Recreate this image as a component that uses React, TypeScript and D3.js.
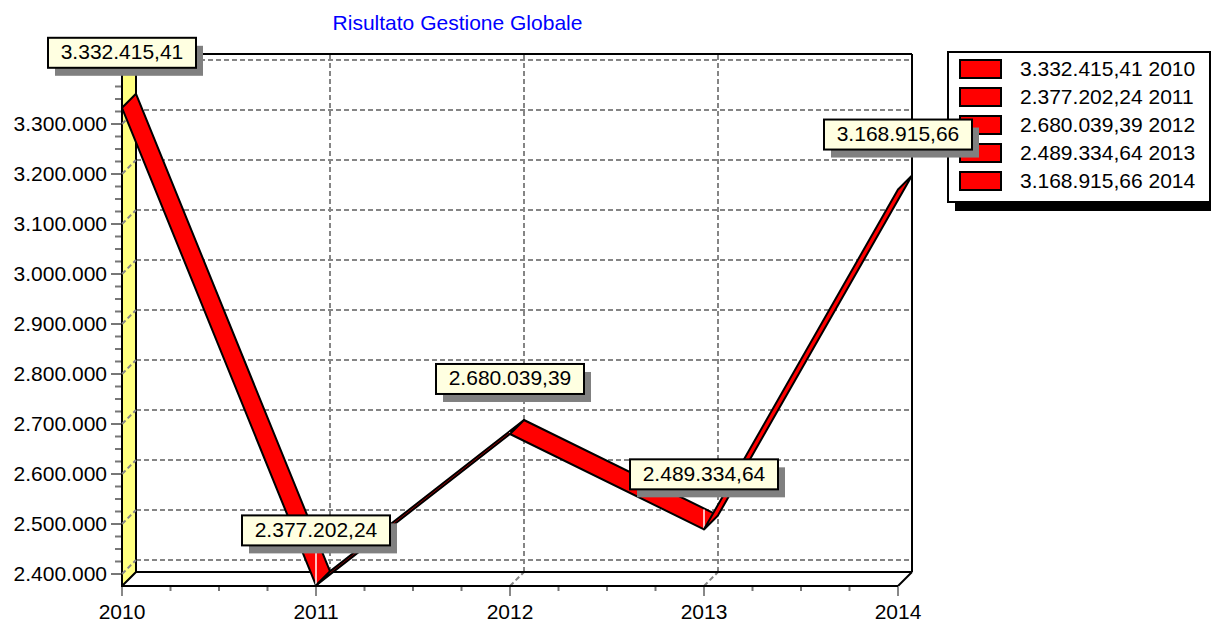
import React from 'react';
import * as d3 from 'd3';

const years = ['2010', '2011', '2012', '2013', '2014'];
const values = [3332415.41, 2377202.24, 2680039.39, 2489334.64, 3168915.66];
const yLabelTicks = [2400000, 2500000, 2600000, 2700000, 2800000, 2900000, 3000000, 3100000, 3200000, 3300000];
const yGridTicks = [2400000, 2500000, 2600000, 2700000, 2800000, 2900000, 3000000, 3100000, 3200000, 3300000, 3400000];
const yMinorStep = 25000;
const yAxisMin = 2376000;
const yAxisMax = 3412000;
const title = 'Risultato Gestione Globale';

const W = 1211;
const H = 624;
const DX = 14;
const DY = -14;
const FONT = '"Liberation Sans", Arial, sans-serif';
const GRID = '#858585';

const itLocale = d3.formatLocale({ decimal: ',', thousands: '.', grouping: [3], currency: ['€', ''] });
const fmtVal = itLocale.format(',.2f');
const fmtTick = itLocale.format(',.0f');

export default function App() {
  const x = d3.scalePoint<string>().domain(years).range([122, 898]);
  const y = d3.scaleLinear().domain([yAxisMin, yAxisMax]).range([586, 68]);

  const x0 = x(years[0])!;
  const xN = x(years[years.length - 1])!;
  const yBot = y(yAxisMin);
  const yTop = y(yAxisMax);

  const pts = years.map((yr, i) => ({ x: x(yr)!, y: y(values[i]), v: values[i], yr }));

  const minorTicks = d3.range(yAxisMin + (yMinorStep - (yAxisMin % yMinorStep)), yAxisMax, yMinorStep);
  const xStep = x.step();
  const xMinor: number[] = [];
  for (let i = 0; i < years.length - 1; i++) {
    for (let k = 1; k < 4; k++) xMinor.push(x(years[i])! + (xStep * k) / 4);
  }

  const segs = pts.slice(0, -1).map((p, i) => {
    const q = pts[i + 1];
    return [
      [p.x, p.y],
      [q.x, q.y],
      [q.x + DX, q.y + DY],
      [p.x + DX, p.y + DY],
    ];
  });

  const whiteLines = pts.slice(1, -1).map((p, j) => {
    const prev = pts[j];
    const t = (p.x - prev.x - DX) / (p.x - prev.x);
    const yb = prev.y + DY + t * (p.y - prev.y);
    return { x: p.x, y1: p.y, y2: yb };
  });

  const line = d3.line();

  return (
    <svg width={W} height={H} style={{ position: 'absolute', left: 0, top: 0, background: '#fff' }} fontFamily={FONT}>
      {/* title */}
      <text x={457.5} y={30} textAnchor="middle" fontSize={21} fill="#0000ff">{title}</text>

      {/* back wall gridlines */}
      {yGridTicks.map((t) => (
        <g key={'g' + t}>
          <line x1={x0 + DX} x2={xN + DX} y1={y(t) + DY} y2={y(t) + DY} stroke={GRID} strokeWidth={2} strokeDasharray="5,3" />
        </g>
      ))}
      {years.slice(1, -1).map((yr) => (
        <g key={'v' + yr}>
          <line x1={x(yr)! + DX} x2={x(yr)! + DX} y1={yBot + DY} y2={yTop + DY} stroke={GRID} strokeWidth={2} strokeDasharray="5,3" />
          <line x1={x(yr)!} x2={x(yr)! + DX} y1={yBot} y2={yBot + DY} stroke={GRID} strokeWidth={2} strokeDasharray="5,3" />
        </g>
      ))}

      {/* left wall (yellow) */}
      <polygon
        points={[[x0, yBot], [x0 + DX, yBot + DY], [x0 + DX, yTop + DY], [x0, yTop]].map((p) => p.join(',')).join(' ')}
        fill="#ffff80"
        stroke="#000"
        strokeWidth={2}
      />
      {yGridTicks.map((t) => (
        <line key={'d' + t} x1={x0} x2={x0 + DX} y1={y(t)} y2={y(t) + DY} stroke={GRID} strokeWidth={2} strokeDasharray="5,3" />
      ))}

      {/* back wall frame */}
      <line x1={x0 + DX} x2={xN + DX} y1={yTop + DY} y2={yTop + DY} stroke="#000" strokeWidth={2} />
      <line x1={xN + DX} x2={xN + DX} y1={yTop + DY} y2={yBot + DY} stroke="#000" strokeWidth={2} />
      <line x1={x0 + DX} x2={xN + DX} y1={yBot + DY} y2={yBot + DY} stroke="#000" strokeWidth={2} />
      {/* floor front */}
      <line x1={x0} x2={xN} y1={yBot} y2={yBot} stroke="#000" strokeWidth={2} />
      <line x1={xN} x2={xN + DX} y1={yBot} y2={yBot + DY} stroke="#000" strokeWidth={2} />

      {/* y ticks */}
      {minorTicks.map((t) => {
        const major = Math.abs(t % 100000) < 1;
        return (
          <line key={'t' + t} x1={major ? x0 - 11 : x0 - 7} x2={x0 - 1} y1={y(t)} y2={y(t)} stroke="#777" strokeWidth={2} />
        );
      })}
      {yLabelTicks.map((t) => (
        <text key={'l' + t} x={107} y={y(t) + 6.5} textAnchor="end" fontSize={21} fill="#000">{fmtTick(t)}</text>
      ))}

      {/* x ticks */}
      {xMinor.map((mx) => (
        <line key={'m' + mx} x1={mx} x2={mx} y1={yBot + 1} y2={yBot + 5} stroke="#777" strokeWidth={2} />
      ))}
      {years.map((yr) => (
        <g key={'x' + yr}>
          <line x1={x(yr)!} x2={x(yr)!} y1={yBot + 1} y2={yBot + 10} stroke="#888" strokeWidth={2} />
          <text x={x(yr)!} y={619} textAnchor="middle" fontSize={21} fill="#000">{yr}</text>
        </g>
      ))}

      {/* ribbon */}
      {segs.map((s, i) => (
        <g key={'s' + i}>
          <path d={line(s as [number, number][])! + 'Z'} fill="#ff0000" stroke="#000" strokeWidth={2} strokeLinejoin="round" />
          {i < whiteLines.length && (
            <line x1={whiteLines[i].x} x2={whiteLines[i].x} y1={whiteLines[i].y1 - 1} y2={whiteLines[i].y2 + 1} stroke="#fff" strokeWidth={1.5} />
          )}
        </g>
      ))}

      {/* legend */}
      <rect x={955} y={61} width={262} height={150} fill="#000" />
      <rect x={948} y={52} width={262} height={150} fill="#fff" stroke="#000" strokeWidth={2} />
      {years.map((yr, i) => (
        <g key={'lg' + yr}>
          <rect x={960} y={60 + i * 28} width={41} height={18} fill="#ff0000" stroke="#000" strokeWidth={2} />
          <text x={1020} y={76 + i * 28} fontSize={21} fill="#000">{fmtVal(values[i]) + ' ' + yr}</text>
        </g>
      ))}

      {/* value labels */}
      {pts.map((p) => (
        <g key={'vl' + p.yr}>
          <rect x={p.x - 74 + 7} y={p.y - 70 + 8} width={148} height={30} fill="#808080" />
          <rect x={p.x - 74} y={p.y - 70} width={148} height={30} fill="#ffffe1" stroke="#000" strokeWidth={2} />
          <text x={p.x} y={p.y - 48.5} textAnchor="middle" fontSize={21} fill="#000">{fmtVal(p.v)}</text>
        </g>
      ))}
    </svg>
  );
}
